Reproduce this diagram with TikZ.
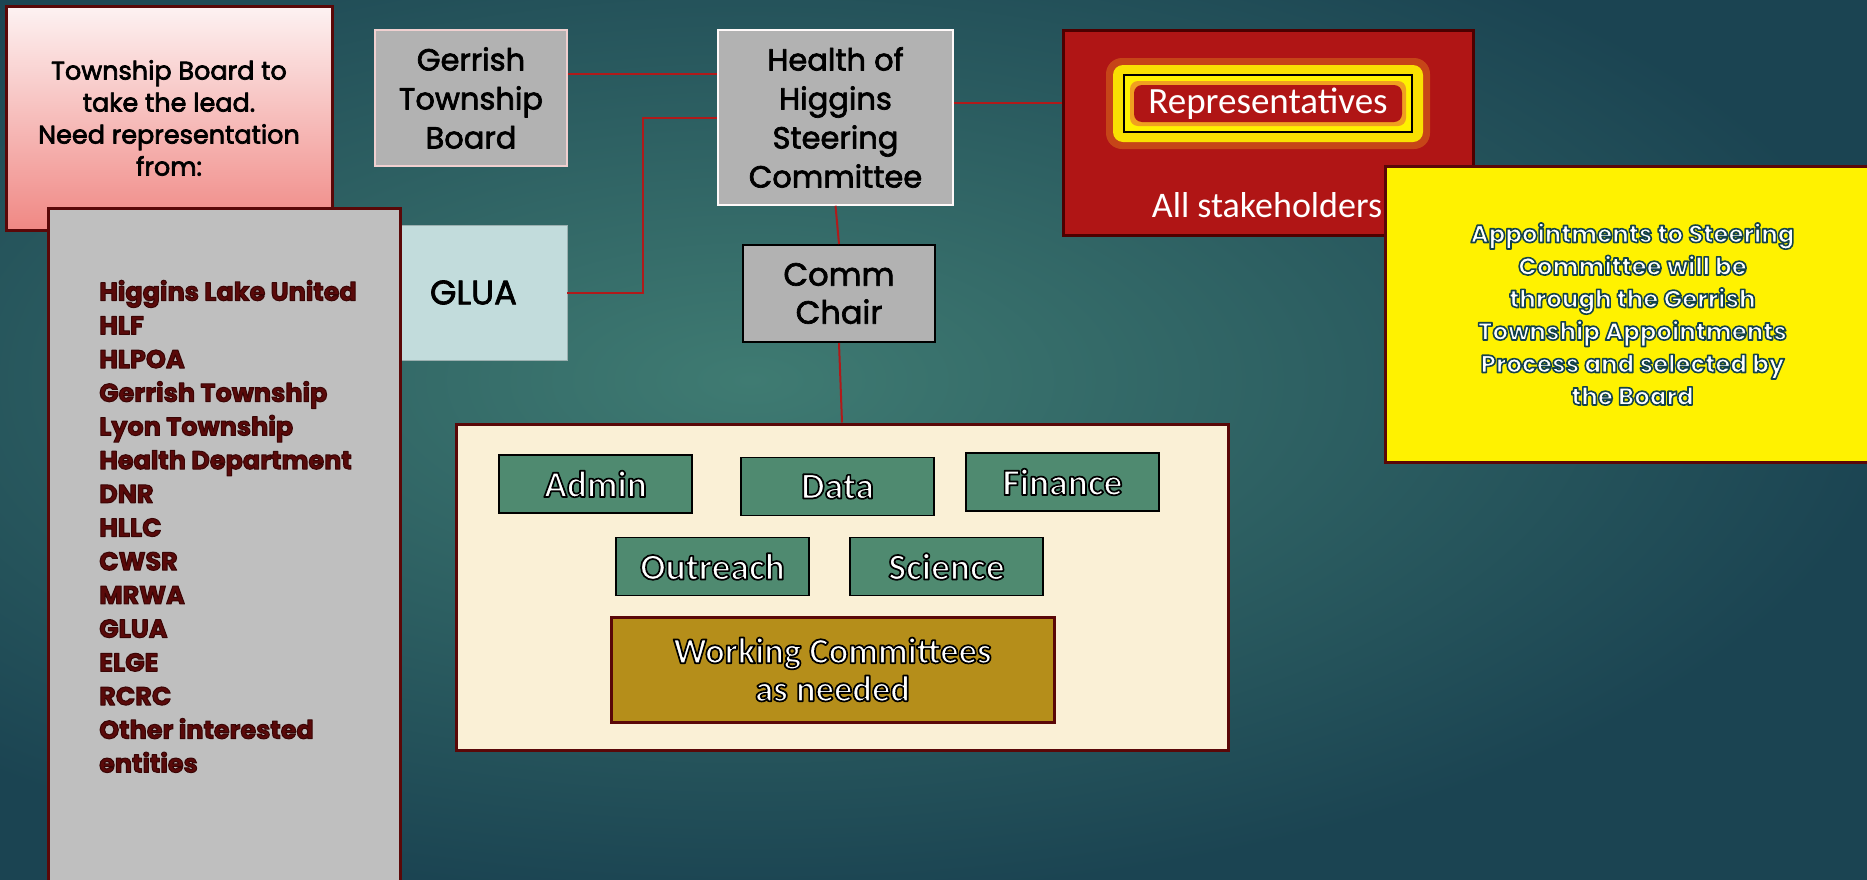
\documentclass[tikz,border=0pt]{standalone}
\usepackage{fontspec}
\setmainfont{Poppins}
\newfontfamily\condfont{Carlito}
\usetikzlibrary{calc}
\definecolor{bgmid}{HTML}{3F7B72}
\definecolor{bgdark}{HTML}{1B4452}
\definecolor{pinktop}{HTML}{FDF2F2}
\definecolor{pinkbot}{HTML}{F08884}
\definecolor{maroon}{HTML}{5A0808}
\definecolor{boxgray}{HTML}{B2B2B2}
\definecolor{listgray}{HTML}{BFBFBF}
\definecolor{gluafill}{HTML}{C2DCDC}
\definecolor{redbox}{HTML}{B01515}
\definecolor{redborder}{HTML}{4D0000}
\definecolor{glowor}{HTML}{F0A020}
\definecolor{cream}{HTML}{FAF0D6}
\definecolor{greenbox}{HTML}{4F8A70}
\definecolor{goldbox}{HTML}{B58E1A}
\definecolor{connred}{HTML}{B01A1A}
\definecolor{listtext}{HTML}{5A0A0A}
\definecolor{lightborder}{HTML}{F0D0D0}
% stroked text: #1 stroke rgb, #2 stroke width, #3 text
\newcommand{\strk}[3]{\special{pdf:literal direct 1 j #1 RG #2 w 2 Tr}#3\special{pdf:literal direct 0 Tr}}
\newcommand{\wk}[1]{\strk{0 0 0}{1.7}{#1}}
\newcommand{\yt}[1]{\strk{0.08 0.26 0.29}{1.6}{#1}}
\newcommand{\md}[1]{\strk{0 0 0}{0.7}{#1}}
\begin{document}
\begin{tikzpicture}[x=1pt,y=-1pt,
  box/.style={rectangle, inner sep=0pt, align=center},
  graybox/.style={box, fill=boxgray, draw=lightborder, line width=1.5pt, font={\fontsize{30.5}{39}\selectfont}},
  greenlbl/.style={box, fill=greenbox, draw=black, line width=1.5pt, minimum width=193, minimum height=58, text=white, font={\condfont\bfseries\fontsize{37.5}{40}\selectfont}},
  conn/.style={draw=connred, line width=2pt}]
\useasboundingbox (0,0) rectangle (1867,879);
\fill[bgdark] (0,0) rectangle (1867,879);
\shade[inner color=bgmid, outer color=bgdark] (-400,-140) rectangle (1900,900);

% pink box
\node[box, top color=pinktop, bottom color=pinkbot, draw=maroon, line width=3pt,
  minimum width=326, minimum height=224, font={\fontsize{25.5}{32}\selectfont}] (pink) at (169,118)
  {\md{Township Board to\\take the lead.\\Need representation\\from:}};

% GLUA
\node[box, fill=gluafill, draw=gluafill!80!black, line width=0.8pt, minimum width=187, minimum height=135,
  font={\fontsize{34}{38}\selectfont}] (glua) at (473.5,292.5) {\md{GLUA}};

% list box
\node[box, fill=listgray, draw=maroon, line width=3pt, minimum width=352, minimum height=690] (list) at (224,553) {};
\node[anchor=north west, inner sep=0pt, align=left, text=listtext,
  font={\bfseries\fontsize{25.5}{33.7}\selectfont}] (listtxt) at (99,280)
  {\strk{0.22 0.02 0.02}{1.0}{Higgins Lake United\\HLF\\HLPOA\\Gerrish Township\\Lyon Township\\Health Department\\DNR\\HLLC\\CWSR\\MRWA\\GLUA\\ELGE\\RCRC\\Other interested\\entities}};

% Gerrish and Health
\node[graybox, minimum width=192, minimum height=136] (gerrish) at (471,98) {\md{Gerrish\\Township\\Board}};
\node[graybox, draw=white!90!pink, minimum width=235, minimum height=175] (health) at (835.5,117.5) {\md{Health of\\Higgins\\Steering\\Committee}};

% Red representative box
\node[box, fill=redbox, draw=redborder, line width=3pt, minimum width=410, minimum height=205] (red) at (1268,132.5) {};
\fill[glowor, opacity=0.35, rounded corners=16pt] (1106,58) rectangle (1430,149);
\fill[yellow, opacity=0.9, rounded corners=10pt] (1113,65) rectangle (1423,142);
\node[box, fill=yellow, draw=black, line width=1.5pt, minimum width=288, minimum height=57,
  text=white, font={\condfont\fontsize{37}{40}\selectfont},
  path picture={
    \fill[glowor, rounded corners=8pt] ([shift={(6pt,-6pt)}]path picture bounding box.north west) rectangle ([shift={(-6pt,6pt)}]path picture bounding box.south east);
    \fill[redbox, rounded corners=8pt] ([shift={(10pt,-10pt)}]path picture bounding box.north west) rectangle ([shift={(-10pt,10pt)}]path picture bounding box.south east);
  }] (rep) at (1268,103.5) {Representatives};
\node[inner sep=0pt, text=white, font={\condfont\fontsize{36}{40}\selectfont}] (stake) at (1267,205) {All stakeholders};

% Yellow box
\node[box, fill=yellow, draw=maroon, line width=3pt, minimum width=495, minimum height=296,
  text=white, font={\bfseries\fontsize{24.5}{32.5}\selectfont}] (yel) at (1632.5,314)
  {\yt{Appointments to Steering\\Committee will be\\through the Gerrish\\Township Appointments\\Process and selected by\\the Board}};

% Comm Chair
\node[box, fill=boxgray, draw=black, line width=2pt, minimum width=192, minimum height=97,
  font={\fontsize{32}{38}\selectfont}] (comm) at (839,293.5) {\md{Comm\\Chair}};

% Cream container
\node[box, fill=cream, draw=maroon, line width=3pt, minimum width=772, minimum height=326] (cream) at (842,587) {};
\node[greenlbl] (admin) at (595.5,484) {\wk{Admin}};
\node[greenlbl] (data) at (837.5,486.5) {\wk{Data}};
\node[greenlbl] (finance) at (1062.5,482) {\wk{Finance}};
\node[greenlbl] (outreach) at (712.5,566.5) {\wk{Outreach}};
\node[greenlbl] (science) at (946.5,566.5) {\wk{Science}};
\node[box, fill=goldbox, draw=maroon, line width=3pt, minimum width=443, minimum height=105,
  text=white, font={\condfont\bfseries\fontsize{36.5}{38}\selectfont}] (working) at (832.5,669.5)
  {\wk{Working Committees\\as needed}};

% connectors
\draw[conn] ([yshift=24pt]gerrish.east) coordinate (g1) -- (g1 -| health.west);
\draw[conn] (glua.east) -- ++(76,0) |- (health.west);
\draw[conn] ([yshift=15pt]health.east) coordinate (h1) -- (h1 -| red.west);
\draw[conn] (health.south) -- (comm.north);
\draw[conn] (comm.south) -- (cream.north);
\end{tikzpicture}
\end{document}
